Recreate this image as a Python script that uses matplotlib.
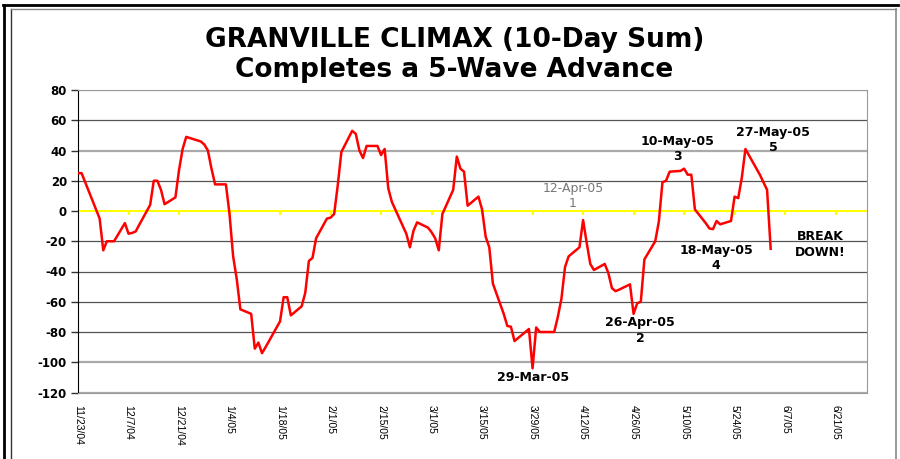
import matplotlib
matplotlib.use("Agg")
import matplotlib.pyplot as plt
import matplotlib.dates as mdates
from matplotlib import font_manager
from matplotlib.lines import Line2D

plt.rcParams["axes.unicode_minus"] = False

# ── data ───────────────────────────────────────────────────────────────────
dates = [
    "2004-11-23", "2004-11-24", "2004-11-26", "2004-11-29", "2004-11-30",
    "2004-12-01", "2004-12-02", "2004-12-03", "2004-12-06", "2004-12-07",
    "2004-12-08", "2004-12-09", "2004-12-10", "2004-12-13", "2004-12-14",
    "2004-12-15", "2004-12-16", "2004-12-17", "2004-12-20", "2004-12-21",
    "2004-12-22", "2004-12-23", "2004-12-27", "2004-12-28", "2004-12-29",
    "2004-12-30", "2004-12-31", "2005-01-03", "2005-01-04", "2005-01-05",
    "2005-01-06", "2005-01-07", "2005-01-10", "2005-01-11", "2005-01-12",
    "2005-01-13", "2005-01-14", "2005-01-18", "2005-01-19", "2005-01-20",
    "2005-01-21", "2005-01-24", "2005-01-25", "2005-01-26", "2005-01-27",
    "2005-01-28", "2005-01-31", "2005-02-01", "2005-02-02", "2005-02-03",
    "2005-02-04", "2005-02-07", "2005-02-08", "2005-02-09", "2005-02-10",
    "2005-02-11", "2005-02-14", "2005-02-15", "2005-02-16", "2005-02-17",
    "2005-02-18", "2005-02-22", "2005-02-23", "2005-02-24", "2005-02-25",
    "2005-02-28", "2005-03-01", "2005-03-02", "2005-03-03", "2005-03-04",
    "2005-03-07", "2005-03-08", "2005-03-09", "2005-03-10", "2005-03-11",
    "2005-03-14", "2005-03-15", "2005-03-16", "2005-03-17", "2005-03-18",
    "2005-03-21", "2005-03-22", "2005-03-23", "2005-03-24", "2005-03-28",
    "2005-03-29", "2005-03-30", "2005-03-31", "2005-04-01", "2005-04-04",
    "2005-04-05", "2005-04-06", "2005-04-07", "2005-04-08", "2005-04-11",
    "2005-04-12", "2005-04-13", "2005-04-14", "2005-04-15", "2005-04-18",
    "2005-04-19", "2005-04-20", "2005-04-21", "2005-04-22", "2005-04-25",
    "2005-04-26", "2005-04-27", "2005-04-28", "2005-04-29", "2005-05-02",
    "2005-05-03", "2005-05-04", "2005-05-05", "2005-05-06", "2005-05-09",
    "2005-05-10", "2005-05-11", "2005-05-12", "2005-05-13", "2005-05-16",
    "2005-05-17", "2005-05-18", "2005-05-19", "2005-05-20", "2005-05-23",
    "2005-05-24", "2005-05-25", "2005-05-26", "2005-05-27", "2005-05-31",
    "2005-06-01", "2005-06-02", "2005-06-03",
]
climax_sum = [
    25, 25, 13, -5, -26,
    -20, -20, -20, -8, -15,
    -14.5, -13.5, -9, 4, 20,
    20, 14, 4.5, 9, 27,
    41, 49, 46, 44, 40,
    28, 17.6, 17.6, -2, -30,
    -45, -65, -68, -91, -87,
    -94, -90, -73, -57, -57,
    -69, -63, -54, -33, -31,
    -18, -5, -4.4, -2, 17,
    39, 53, 51, 40, 35,
    43, 43, 37, 41, 15,
    6, -15, -24, -13, -7.5,
    -11, -14, -18, -26, -2,
    14, 36, 28, 26, 3.5,
    9.5, 1, -17, -24, -48,
    -68, -76, -76.5, -86, -78,
    -104, -77, -80, -80, -80,
    -70, -58, -37, -30, -24,
    -6, -21, -35, -39, -35,
    -41, -51, -53, -52, -48.5,
    -68, -61, -60, -32, -20,
    -7, 19, 20, 26, 26.5,
    28, 24, 24, 1, -8,
    -11.5, -12, -6.6, -8.8, -6.6,
    9.5, 8.5, 22, 41, 24,
    19, 14, -25,
]

tick_dates = ["2004-11-23", "2004-12-07", "2004-12-21", "2005-01-04",
              "2005-01-18", "2005-02-01", "2005-02-15", "2005-03-01",
              "2005-03-15", "2005-03-29", "2005-04-12", "2005-04-26",
              "2005-05-10", "2005-05-24", "2005-06-07", "2005-06-21"]
tick_labels = ["11/23/04", "12/7/04", "12/21/04", "1/4/05", "1/18/05",
               "2/1/05", "2/15/05", "3/1/05", "3/15/05", "3/29/05",
               "4/12/05", "4/26/05", "5/10/05", "5/24/05", "6/7/05",
               "6/21/05"]

# wave labels: text, anchor date, anchor value
wave_text = ["12-Apr-05\n1", "26-Apr-05\n2", "10-May-05\n3",
             "18-May-05\n4", "27-May-05\n5", "29-Mar-05", "BREAK\nDOWN!"]
wave_x = ["2005-04-09 05:00", "2005-04-27 19:00", "2005-05-08 07:00",
          "2005-05-18 21:00", "2005-06-03 17:00", "2005-03-29 03:00",
          "2005-06-16 17:00"]
wave_y = [10, -79, 41, -31, 47, -110, -22]

x = mdates.datestr2num(dates)
tx = mdates.datestr2num(tick_dates)


def have_font(name):
    try:
        font_manager.findfont(name, fallback_to_default=False)
        return True
    except Exception:
        return False


narrow = "Liberation Sans Narrow" if have_font("Liberation Sans Narrow") else "Liberation Sans"
xtick_size = 10 if narrow == "Liberation Sans Narrow" else 7.5

# ── figure ─────────────────────────────────────────────────────────────────
fig = plt.figure(figsize=(9, 4.59), dpi=100)
fig.patch.set_facecolor("white")
ax = fig.add_axes([78 / 900, 1 - 392.5 / 459, (867 - 78) / 900, (392.5 - 90) / 459])

# frame around the whole chart
fig.add_artist(Line2D([3 / 900, 898 / 900], [1 - 5 / 459] * 2, color="black", lw=2,
                      transform=fig.transFigure))
fig.add_artist(Line2D([4 / 900] * 2, [0, 1 - 5 / 459], color="black", lw=2,
                      transform=fig.transFigure))
fig.add_artist(Line2D([11 / 900] * 2, [0, 1 - 9 / 459], color="#333333", lw=1,
                      transform=fig.transFigure))
fig.add_artist(Line2D([11 / 900, 896 / 900], [1 - 9 / 459] * 2, color="#888888", lw=1,
                      transform=fig.transFigure))
fig.add_artist(Line2D([896 / 900] * 2, [0, 1 - 9 / 459], color="#888888", lw=1.2,
                      transform=fig.transFigure))

fig.text(0.505, 1 - 40 / 459, "GRANVILLE CLIMAX (10-Day Sum)", ha="center", va="center",
         fontsize=19, fontweight="bold", family="DejaVu Sans")
fig.text(0.505, 1 - 70 / 459, "Completes a 5-Wave Advance", ha="center", va="center",
         fontsize=19, fontweight="bold", family="DejaVu Sans")

# axes
ax.set_ylim(-120, 80)
ax.set_xlim(tx[0], tx[0] + 218.7)
ax.set_yticks(range(-120, 81, 20))
ax.grid(axis="y", color="#555555", lw=0.9)
for val, gl in zip(range(-120, 81, 20), ax.get_ygridlines()):
    if val in (80, 40, -100, -120):
        gl.set_color("#aaaaaa")
        gl.set_linewidth(1.6)
    if val == 0:
        gl.set_visible(False)
ax.set_axisbelow(True)

for side in ("top", "right", "bottom"):
    ax.spines[side].set_color("#999999")
ax.spines["left"].set_color("black")

ax.tick_params(axis="y", length=5, width=1, color="#333333", pad=3)
for lab in ax.get_yticklabels():
    lab.set_fontweight("bold")
    lab.set_fontsize(8.5)
    lab.set_family("DejaVu Sans")

ax.set_xticks(tx)
ax.set_xticklabels(tick_labels, rotation=-90, fontsize=xtick_size, family=narrow)
ax.tick_params(axis="x", length=0, pad=9)

# yellow zero line with small tick marks at each date
ax.axhline(0, color="#ffff00", lw=1.5, zorder=2)
ax.vlines(tx, -2.5, 0, color="#ffff00", lw=1.5, zorder=2)

ax.plot(x, climax_sum, color="#ff0000", lw=1.8, zorder=3)

for txt, lx, ly in zip(wave_text, wave_x, wave_y):
    grey = txt.startswith("12-Apr")
    ax.text(mdates.datestr2num(lx), ly, txt, ha="center", va="center",
            fontsize=9, family="DejaVu Sans", linespacing=1.25,
            fontweight="normal" if grey else "bold",
            color="#777777" if grey else "black", zorder=4)

fig.savefig("out.png", dpi=100, facecolor="white")
